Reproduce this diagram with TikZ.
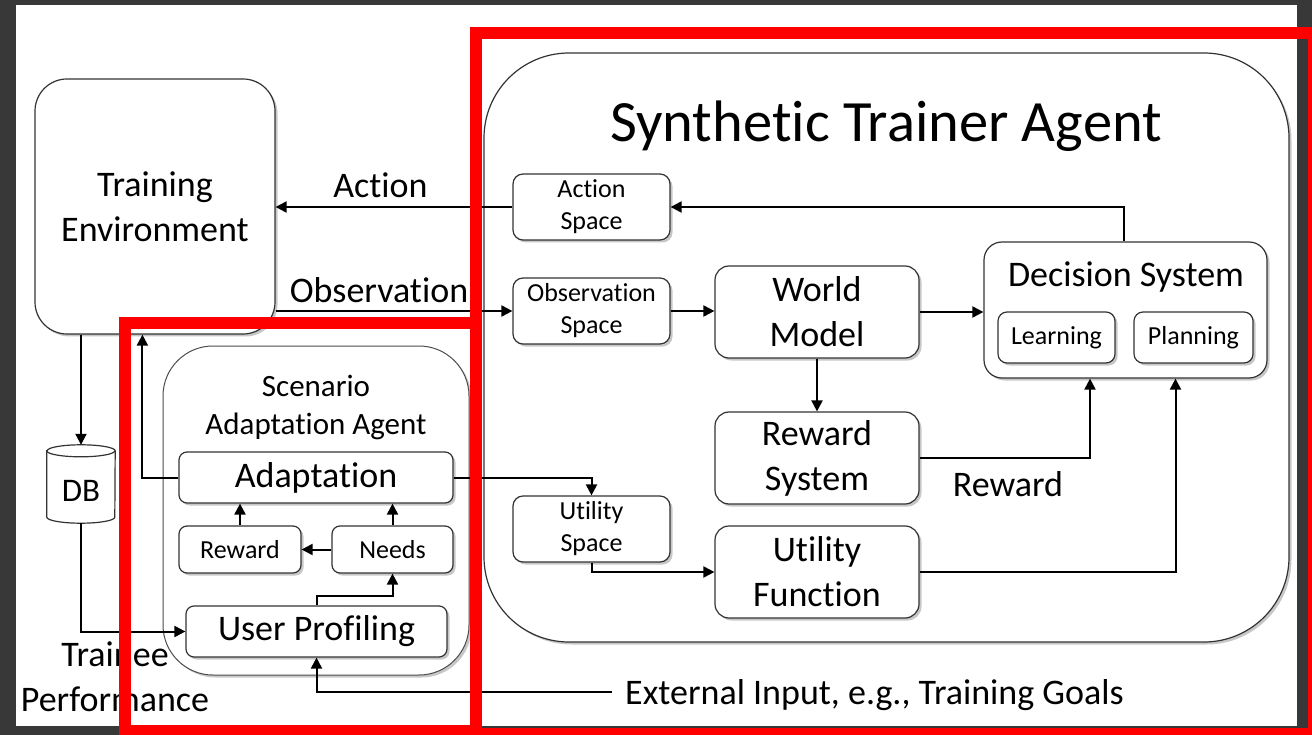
\documentclass[tikz,border=0pt]{standalone}
\usepackage{fontspec}
\setmainfont{Carlito}[Ligatures=NoCommon]
\usetikzlibrary{arrows.meta,shadows,calc}

\definecolor{bgdark}{HTML}{383838}
\definecolor{frame}{HTML}{FF0000}

\newcommand\fsBig{\fontsize{36}{45}\selectfont}
\newcommand\fsMid{\fontsize{31}{38}\selectfont}
\newcommand\fsDB{\fontsize{33}{40}\selectfont}
\newcommand\fsSmall{\fontsize{26}{32}\selectfont}
\newcommand\fsTitle{\fontsize{58.5}{70}\selectfont}

\begin{document}
\begin{tikzpicture}[x=1pt,y=-1pt,
  box/.style={draw=black!80, line width=1.2pt, fill=white, rounded corners=#1,
    drop shadow={shadow xshift=2.5pt, shadow yshift=-2.5pt, fill=black, opacity=0.22},
    inner sep=0pt, align=center},
  box/.default=10pt,
  arr/.style={line width=2pt, -{Triangle[length=11pt,width=11pt]}},
  lbl/.style={inner sep=0pt, align=center},
  redframe/.style={draw=frame, line width=12pt},
]
\useasboundingbox (0,0) rectangle (1312,735);
\fill[bgdark] (0,0) rectangle (1312,735);
\fill[white] (16,5) rectangle (1297,726);

% environment and trainer agent
\node[box=32pt, minimum width=240, minimum height=255, font=\fsBig] (env) at (155,206.5) {Training\\Environment};
\node[box=85pt, minimum width=805, minimum height=589] (sta) at (886.5,347.5) {};
\node[lbl, font=\fsTitle, anchor=base] (statitle) at (886,142) {Synthetic Trainer Agent};

\node[box=10pt, minimum width=157, minimum height=66, font=\fsSmall] (as) at (591.5,207) {Action\\Space};
\node[box=10pt, minimum width=157, minimum height=66, font=\fsSmall] (os) at (591.5,311) {Observation\\Space};
\node[box=10pt, minimum width=157, minimum height=66, font=\fsSmall] (us) at (591.5,529) {Utility\\Space};

\node[box=14pt, minimum width=204, minimum height=92, font=\fsBig] (wm) at (817,312) {World\\Model};
\node[box=14pt, minimum width=204, minimum height=92, font=\fsBig] (rs) at (817,458) {Reward\\System};
\node[box=14pt, minimum width=204, minimum height=92, font=\fsBig] (uf) at (817,572) {Utility\\Function};

\node[box=18pt, minimum width=283, minimum height=136] (ds) at (1125.5,310) {};
\node[lbl, font=\fsBig, anchor=base] (dstitle) at (1126,287) {Decision System};
\node[box=9pt, minimum width=117, minimum height=51, font=\fsSmall] (learn) at (1056.5,337.5) {Learning};
\node[box=9pt, minimum width=119, minimum height=51, font=\fsSmall] (plan) at (1193.5,337.5) {Planning};

% scenario adaptation agent
\node[box=50pt, minimum width=306, minimum height=329, draw=black!70, line width=1pt] (saa) at (316,510.5) {};
\node[lbl, font=\fsMid] (saatitle) at (316,407) {Scenario\\Adaptation Agent};
\node[box=8pt, minimum width=274, minimum height=51, font=\fsBig] (adapt) at (316,477.5) {Adaptation};
\node[box=8pt, minimum width=122, minimum height=47, font=\fsSmall] (srew) at (240,549.5) {Reward};
\node[box=8pt, minimum width=121, minimum height=47, font=\fsSmall] (needs) at (392.5,549.5) {Needs};
\node[box=8pt, minimum width=261, minimum height=51, font=\fsBig] (prof) at (316.5,631.5) {User Profiling};

% database cylinder
\node[minimum width=68, minimum height=78, inner sep=0pt] (db) at (81,484) {};
\draw[draw=black!80, line width=1.2pt, fill=white]
  ([yshift=-6pt]db.north west) -- ([yshift=6pt]db.south west)
  arc[start angle=180, end angle=360, x radius=34pt, y radius=6pt]
  -- ([yshift=-6pt]db.north east)
  arc[start angle=0, end angle=180, x radius=34pt, y radius=6pt] -- cycle;
\draw[draw=black!80, line width=1.2pt] ([yshift=-6pt]db.north west)
  arc[start angle=180, end angle=360, x radius=34pt, y radius=6pt];
\node[lbl, font=\fsDB] (dbtext) at (81,490.5) {DB};

% connectors of the trainer agent
\draw[arr] (as.west) -- (as.west -| env.east);
\node[lbl, font=\fsBig, anchor=base] (lblaction) at (380.5,198) {Action};
\draw[arr] (os.west -| env.east) -- (os.west);
\node[lbl, font=\fsBig, anchor=base] (lblobs) at (379,303) {Observation};
\draw[arr] (os.east) -- (os.east -| wm.west);
\draw[arr] (wm.east) -- (wm.east -| ds.west);
\draw[arr] ([xshift=-1.5pt]ds.north) |- (as.east);
\draw[arr] (wm.south) -- (rs.north);
\draw[arr] (rs.east) -| ($(ds.south)+(-35.5,0)$);
\node[lbl, font=\fsBig, anchor=base] (lblreward) at (1008,496) {Reward};
\draw[arr] (uf.east) -| ($(ds.south)+(50,0)$);
\draw[arr] (us.south) |- (uf.west);
\draw[arr] (adapt.east) -| (us.north);

% connectors of the adaptation agent
\draw[arr] (adapt.west) -| ($(env.south west)+(108,0)$);
\draw[arr] (env.south -| db.north) -- (db.north);
\draw[arr] (db.south) |- (prof.west);
\draw[arr] (srew.north) -- (srew.north |- adapt.south);
\draw[arr] (needs.north) -- (needs.north |- adapt.south);
\draw[arr] (needs.west) -- (srew.east);
\draw[arr] (prof.north) -- ++(0,-9) -| (needs.south);
\coordinate (extin) at (612,692);
\draw[arr] (extin) -| (prof.south);
\node[lbl, font=\fsBig, anchor=base west] (exttext) at (625,704) {External Input, e.g., Training Goals};
\node[lbl, font=\fsBig] (perf) at (115,677) {Trainee\\Performance};

% highlight frames
\draw[redframe] (476,33) rectangle (1314,734);
\draw[redframe] (125,323) rectangle (476,731);
\end{tikzpicture}
\end{document}
